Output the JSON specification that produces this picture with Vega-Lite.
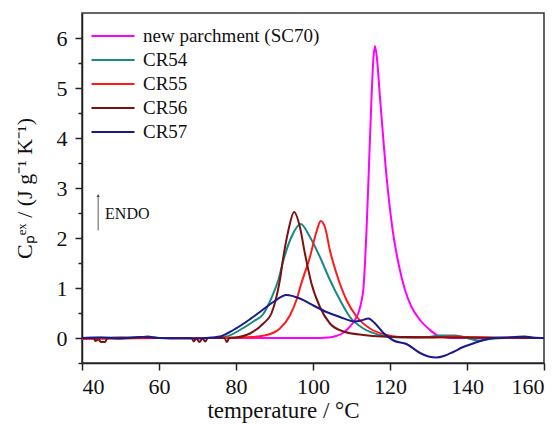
{
  "$schema": "https://vega.github.io/schema/vega-lite/v6.json",
  "width": 462,
  "height": 350,
  "autosize": {"type": "none"},
  "padding": {"left": 82, "top": 13, "right": 16, "bottom": 61},
  "background": "white",
  "config": {
    "view": {"stroke": "#333333", "strokeWidth": 1.5},
    "font": "Liberation Serif",
    "axis": {"labelFont": "Liberation Serif", "titleFont": "Liberation Serif"},
    "legend": {"labelFont": "Liberation Serif"}
  },
  "resolve": {"scale": {"y": "shared"}, "axis": {"y": "independent"}},
  "datasets": {
    "curves": [
      {"s": "new parchment (SC70)", "T": 40, "v": 0},
      {"s": "new parchment (SC70)", "T": 60, "v": 0},
      {"s": "new parchment (SC70)", "T": 80, "v": 0},
      {"s": "new parchment (SC70)", "T": 100, "v": 0},
      {"s": "new parchment (SC70)", "T": 104, "v": 0.01},
      {"s": "new parchment (SC70)", "T": 106, "v": 0.04},
      {"s": "new parchment (SC70)", "T": 108, "v": 0.11},
      {"s": "new parchment (SC70)", "T": 109.5, "v": 0.22},
      {"s": "new parchment (SC70)", "T": 110.9, "v": 0.36},
      {"s": "new parchment (SC70)", "T": 112, "v": 0.55},
      {"s": "new parchment (SC70)", "T": 112.6, "v": 0.74},
      {"s": "new parchment (SC70)", "T": 113.1, "v": 1.0},
      {"s": "new parchment (SC70)", "T": 113.5, "v": 1.49},
      {"s": "new parchment (SC70)", "T": 113.9, "v": 2.15},
      {"s": "new parchment (SC70)", "T": 114.4, "v": 3.15},
      {"s": "new parchment (SC70)", "T": 115.2, "v": 4.81},
      {"s": "new parchment (SC70)", "T": 115.7, "v": 5.6},
      {"s": "new parchment (SC70)", "T": 116.1, "v": 5.84},
      {"s": "new parchment (SC70)", "T": 116.6, "v": 5.6},
      {"s": "new parchment (SC70)", "T": 117.4, "v": 4.81},
      {"s": "new parchment (SC70)", "T": 119.2, "v": 3.15},
      {"s": "new parchment (SC70)", "T": 120.7, "v": 2.15},
      {"s": "new parchment (SC70)", "T": 122.2, "v": 1.49},
      {"s": "new parchment (SC70)", "T": 123.9, "v": 0.96},
      {"s": "new parchment (SC70)", "T": 125.6, "v": 0.62},
      {"s": "new parchment (SC70)", "T": 127.8, "v": 0.36},
      {"s": "new parchment (SC70)", "T": 130.4, "v": 0.16},
      {"s": "new parchment (SC70)", "T": 132.1, "v": 0.06},
      {"s": "new parchment (SC70)", "T": 134, "v": 0.02},
      {"s": "new parchment (SC70)", "T": 136, "v": 0},
      {"s": "new parchment (SC70)", "T": 160, "v": 0},

      {"s": "CR54", "T": 40, "v": 0},
      {"s": "CR54", "T": 50, "v": 0.01},
      {"s": "CR54", "T": 60, "v": 0},
      {"s": "CR54", "T": 70, "v": 0},
      {"s": "CR54", "T": 74, "v": 0},
      {"s": "CR54", "T": 77.6, "v": 0.03},
      {"s": "CR54", "T": 81, "v": 0.16},
      {"s": "CR54", "T": 84.5, "v": 0.33},
      {"s": "CR54", "T": 87.1, "v": 0.48},
      {"s": "CR54", "T": 89.2, "v": 0.8},
      {"s": "CR54", "T": 91, "v": 1.16},
      {"s": "CR54", "T": 92.3, "v": 1.55},
      {"s": "CR54", "T": 94.4, "v": 2.02},
      {"s": "CR54", "T": 96.8, "v": 2.28},
      {"s": "CR54", "T": 99.2, "v": 2.02},
      {"s": "CR54", "T": 101.8, "v": 1.62},
      {"s": "CR54", "T": 104.4, "v": 1.16},
      {"s": "CR54", "T": 107, "v": 0.76},
      {"s": "CR54", "T": 109.6, "v": 0.42},
      {"s": "CR54", "T": 113.1, "v": 0.19},
      {"s": "CR54", "T": 117.4, "v": 0.06},
      {"s": "CR54", "T": 120, "v": 0.02},
      {"s": "CR54", "T": 125, "v": 0.01},
      {"s": "CR54", "T": 130, "v": 0.02},
      {"s": "CR54", "T": 133, "v": 0.05},
      {"s": "CR54", "T": 137, "v": 0.05},
      {"s": "CR54", "T": 140, "v": 0},
      {"s": "CR54", "T": 143, "v": -0.05},
      {"s": "CR54", "T": 146, "v": -0.02},
      {"s": "CR54", "T": 150, "v": 0},
      {"s": "CR54", "T": 160, "v": 0},

      {"s": "CR55", "T": 40, "v": -0.02},
      {"s": "CR55", "T": 50, "v": -0.01},
      {"s": "CR55", "T": 60, "v": 0},
      {"s": "CR55", "T": 70, "v": 0},
      {"s": "CR55", "T": 80, "v": 0.01},
      {"s": "CR55", "T": 84, "v": 0.02},
      {"s": "CR55", "T": 88, "v": 0.06},
      {"s": "CR55", "T": 91.4, "v": 0.19},
      {"s": "CR55", "T": 94, "v": 0.45},
      {"s": "CR55", "T": 95.7, "v": 0.76},
      {"s": "CR55", "T": 97, "v": 1.1},
      {"s": "CR55", "T": 99.2, "v": 1.62},
      {"s": "CR55", "T": 101, "v": 2.15},
      {"s": "CR55", "T": 102, "v": 2.34},
      {"s": "CR55", "T": 103.1, "v": 2.22},
      {"s": "CR55", "T": 104.4, "v": 1.75},
      {"s": "CR55", "T": 106.1, "v": 1.29},
      {"s": "CR55", "T": 108.7, "v": 0.76},
      {"s": "CR55", "T": 111.4, "v": 0.42},
      {"s": "CR55", "T": 114.8, "v": 0.19},
      {"s": "CR55", "T": 119.2, "v": 0.06},
      {"s": "CR55", "T": 122, "v": 0.02},
      {"s": "CR55", "T": 130, "v": 0.01},
      {"s": "CR55", "T": 136, "v": 0.03},
      {"s": "CR55", "T": 140, "v": 0.02},
      {"s": "CR55", "T": 150, "v": 0},
      {"s": "CR55", "T": 160, "v": 0},

      {"s": "CR56", "T": 40, "v": 0},
      {"s": "CR56", "T": 43, "v": 0},
      {"s": "CR56", "T": 43.5, "v": -0.06},
      {"s": "CR56", "T": 44.2, "v": -0.03},
      {"s": "CR56", "T": 45, "v": -0.08},
      {"s": "CR56", "T": 46, "v": -0.08},
      {"s": "CR56", "T": 46.6, "v": 0},
      {"s": "CR56", "T": 55, "v": 0.01},
      {"s": "CR56", "T": 57, "v": 0.03},
      {"s": "CR56", "T": 60, "v": 0},
      {"s": "CR56", "T": 68.5, "v": 0},
      {"s": "CR56", "T": 69, "v": -0.07},
      {"s": "CR56", "T": 69.7, "v": -0.01},
      {"s": "CR56", "T": 70.5, "v": -0.08},
      {"s": "CR56", "T": 71.3, "v": -0.01},
      {"s": "CR56", "T": 72, "v": -0.07},
      {"s": "CR56", "T": 72.7, "v": 0},
      {"s": "CR56", "T": 77, "v": 0},
      {"s": "CR56", "T": 77.6, "v": -0.08},
      {"s": "CR56", "T": 78.3, "v": 0},
      {"s": "CR56", "T": 80, "v": 0.01},
      {"s": "CR56", "T": 83.6, "v": 0.09},
      {"s": "CR56", "T": 87.1, "v": 0.29},
      {"s": "CR56", "T": 89.2, "v": 0.49},
      {"s": "CR56", "T": 90.5, "v": 0.82},
      {"s": "CR56", "T": 91.4, "v": 1.16},
      {"s": "CR56", "T": 92.3, "v": 1.62},
      {"s": "CR56", "T": 93.6, "v": 2.15},
      {"s": "CR56", "T": 95.1, "v": 2.52},
      {"s": "CR56", "T": 96.6, "v": 2.22},
      {"s": "CR56", "T": 97.9, "v": 1.69},
      {"s": "CR56", "T": 99.6, "v": 1.09},
      {"s": "CR56", "T": 101.8, "v": 0.62},
      {"s": "CR56", "T": 104.4, "v": 0.29},
      {"s": "CR56", "T": 107.9, "v": 0.13},
      {"s": "CR56", "T": 113.1, "v": 0.06},
      {"s": "CR56", "T": 118, "v": 0.03},
      {"s": "CR56", "T": 125, "v": 0.02},
      {"s": "CR56", "T": 140, "v": 0.01},
      {"s": "CR56", "T": 160, "v": 0},

      {"s": "CR57", "T": 40, "v": 0},
      {"s": "CR57", "T": 45, "v": 0.01},
      {"s": "CR57", "T": 50, "v": -0.01},
      {"s": "CR57", "T": 55, "v": 0.02},
      {"s": "CR57", "T": 60, "v": 0},
      {"s": "CR57", "T": 65, "v": -0.01},
      {"s": "CR57", "T": 70, "v": -0.01},
      {"s": "CR57", "T": 72, "v": 0},
      {"s": "CR57", "T": 75.8, "v": 0.03},
      {"s": "CR57", "T": 79.3, "v": 0.16},
      {"s": "CR57", "T": 82.8, "v": 0.33},
      {"s": "CR57", "T": 86.2, "v": 0.52},
      {"s": "CR57", "T": 89.7, "v": 0.72},
      {"s": "CR57", "T": 93.1, "v": 0.86},
      {"s": "CR57", "T": 96.6, "v": 0.79},
      {"s": "CR57", "T": 100.1, "v": 0.65},
      {"s": "CR57", "T": 103.5, "v": 0.52},
      {"s": "CR57", "T": 107, "v": 0.42},
      {"s": "CR57", "T": 110.9, "v": 0.33},
      {"s": "CR57", "T": 112.5, "v": 0.35},
      {"s": "CR57", "T": 114.4, "v": 0.39},
      {"s": "CR57", "T": 116, "v": 0.3},
      {"s": "CR57", "T": 118.3, "v": 0.1},
      {"s": "CR57", "T": 120.9, "v": -0.05},
      {"s": "CR57", "T": 124.3, "v": -0.12},
      {"s": "CR57", "T": 127.8, "v": -0.3},
      {"s": "CR57", "T": 130, "v": -0.37},
      {"s": "CR57", "T": 132.1, "v": -0.39},
      {"s": "CR57", "T": 134, "v": -0.36},
      {"s": "CR57", "T": 136.4, "v": -0.28},
      {"s": "CR57", "T": 139, "v": -0.18},
      {"s": "CR57", "T": 141.6, "v": -0.11},
      {"s": "CR57", "T": 146, "v": -0.01},
      {"s": "CR57", "T": 150, "v": 0.01},
      {"s": "CR57", "T": 155, "v": 0.03},
      {"s": "CR57", "T": 157, "v": 0.01},
      {"s": "CR57", "T": 160, "v": 0}
    ],
    "note": [
      {"x": 44.2, "y": 2.15, "y2": 2.85, "xt": 46, "yt": 2.48, "label": "ENDO"}
    ]
  },
  "layer": [
    {
      "data": {"name": "curves"},
      "mark": {"type": "line", "strokeWidth": 2, "interpolate": "monotone", "clip": true},
      "encoding": {
        "x": {
          "field": "T", "type": "quantitative",
          "scale": {"domain": [40, 160], "nice": false, "zero": false},
          "axis": {
            "title": "temperature / °C",
            "values": [40, 50, 60, 70, 80, 90, 100, 110, 120, 130, 140, 150, 160],
            "labelExpr": "datum.value % 20 === 0 ? datum.label : ''",
            "labelOverlap": false,
            "tickSize": 7,
            "tickDash": {"condition": {"test": "datum.value % 20 === 0", "value": []}, "value": [4, 20]},
            "grid": false,
            "domainColor": "#222222", "domainWidth": 1.5,
            "tickColor": "#222222", "tickWidth": 1.5,
            "labelFont": "Liberation Serif", "labelFontSize": 22, "labelColor": "#111111",
            "labelPadding": 6,
            "titleFont": "Liberation Serif", "titleFontSize": 23, "titleFontWeight": "normal", "titleColor": "#111111",
            "titleX": 201,
            "titleY": 54,
            "titleBaseline": "alphabetic"
          }
        },
        "y": {
          "field": "v", "type": "quantitative",
          "scale": {"domain": [-0.5, 6.5], "nice": false, "zero": false},
          "axis": {
            "orient": "left",
            "title": "Cₚᵉˣ / (J g⁻¹ K⁻¹)",
            "values": [0, 1, 2, 3, 4, 5, 6],
            "format": "d",
            "labelOverlap": false,
            "tickSize": 7,
            "grid": false,
            "domainColor": "#222222", "domainWidth": 1.5,
            "tickColor": "#222222", "tickWidth": 1.5,
            "labelFont": "Liberation Serif", "labelFontSize": 22, "labelColor": "#111111",
            "labelPadding": 8,
            "titleFont": "Liberation Serif", "titleFontSize": 22, "titleFontWeight": "normal", "titleColor": "#111111",
            "titlePadding": 20
          }
        },
        "color": {
          "field": "s", "type": "nominal",
          "scale": {
            "domain": ["new parchment (SC70)", "CR54", "CR55", "CR56", "CR57"],
            "range": ["#ff00ff", "#1a8a80", "#ff1a1a", "#7a1212", "#1a1a8c"]
          },
          "legend": {
            "title": null,
            "orient": "none",
            "legendX": 21,
            "legendY": 13,
            "symbolType": "M-2.5,0H2.5",
            "symbolSize": 296,
            "symbolStrokeWidth": 2,
            "labelFont": "Liberation Serif",
            "labelFontSize": 19,
            "labelColor": "#111111",
            "labelLimit": 400,
            "rowPadding": 4,
            "labelOffset": 20
          }
        }
      }
    },
    {
      "data": {"name": "note"},
      "mark": {"type": "rule", "color": "#777777", "strokeWidth": 1.2},
      "encoding": {
        "x": {"field": "x", "type": "quantitative"},
        "y": {
          "field": "y", "type": "quantitative",
          "axis": {
            "orient": "left",
            "title": null,
            "values": [-0.5, 0.5, 1.5, 2.5, 3.5, 4.5, 5.5],
            "labels": false,
            "domain": false,
            "grid": false,
            "tickSize": 4,
            "tickColor": "#222222", "tickWidth": 1.5
          }
        },
        "y2": {"field": "y2"}
      }
    },
    {
      "data": {"name": "note"},
      "mark": {"type": "point", "shape": "triangle-up", "filled": true, "color": "#555555", "size": 12, "opacity": 1},
      "encoding": {
        "x": {"field": "x", "type": "quantitative"},
        "y": {"field": "y2", "type": "quantitative", "axis": null}
      }
    },
    {
      "data": {"name": "note"},
      "mark": {"type": "text", "align": "left", "baseline": "middle", "font": "Liberation Serif", "fontSize": 16, "color": "#111111"},
      "encoding": {
        "x": {"field": "xt", "type": "quantitative"},
        "y": {"field": "yt", "type": "quantitative", "axis": null},
        "text": {"field": "label"}
      }
    }
  ]
}
